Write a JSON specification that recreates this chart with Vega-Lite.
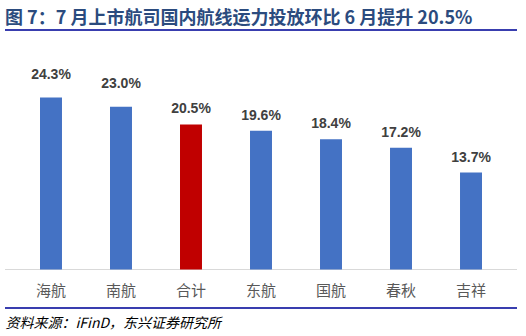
{
  "$schema": "https://vega.github.io/schema/vega-lite/v6.json",
  "width": 512,
  "height": 278,
  "autosize": {"type": "none"},
  "padding": {"left": 5, "right": 9, "top": 30, "bottom": 28},
  "background": "white",
  "config": {"view": {"stroke": null}},
  "title": {
    "text": "图 7：7 月上市航司国内航线运力投放环比 6 月提升 20.5%",
    "anchor": "start",
    "frame": "group",
    "orient": "top",
    "baseline": "bottom",
    "offset": 4,
    "dy": 21,
    "font": "Noto Sans CJK SC",
    "fontSize": 18,
    "fontWeight": "bold",
    "color": "#2B4B7E"
  },
  "data": {
    "values": [
      {"airline": "海航", "v": 0.243},
      {"airline": "南航", "v": 0.230},
      {"airline": "合计", "v": 0.205},
      {"airline": "东航", "v": 0.196},
      {"airline": "国航", "v": 0.184},
      {"airline": "春秋", "v": 0.172},
      {"airline": "吉祥", "v": 0.137}
    ]
  },
  "encoding": {
    "x": {
      "field": "airline",
      "type": "nominal",
      "sort": null,
      "scale": {"paddingInner": 0.686, "paddingOuter": 0.5},
      "axis": {
        "domain": false,
        "ticks": false,
        "labels": false,
        "title": "资料来源：iFinD，东兴证券研究所",
        "titleAnchor": "start",
        "titleAlign": "left",
        "titleBaseline": "top",
        "titlePadding": 8,
        "titleFont": "Noto Sans CJK SC",
        "titleFontStyle": "italic",
        "titleFontWeight": "normal",
        "titleFontSize": 14,
        "titleColor": "#000000"
      }
    }
  },
  "layer": [
    {
      "mark": {"type": "rule", "color": "#D9D9D9", "strokeWidth": 1},
      "encoding": {"x": null, "y": {"datum": 0, "type": "quantitative", "scale": {"domain": [-0.0544, 0.3385], "nice": false, "zero": false}, "axis": null}}
    },
    {
      "mark": {"type": "bar"},
      "encoding": {
        "y": {"field": "v", "type": "quantitative", "scale": {"domain": [-0.0544, 0.3385], "nice": false, "zero": false}, "axis": null},
        "color": {
          "field": "airline",
          "type": "nominal",
          "scale": {"domain": ["海航", "南航", "合计", "东航", "国航", "春秋", "吉祥"], "range": ["#4472C4", "#4472C4", "#C00000", "#4472C4", "#4472C4", "#4472C4", "#4472C4"]},
          "legend": null
        }
      }
    },
    {
      "transform": [{"filter": {"field": "airline", "oneOf": ["海航", "南航"]}}],
      "mark": {"type": "text", "baseline": "alphabetic", "dy": -19, "font": "Liberation Sans", "fontSize": 14, "fontWeight": "bold", "color": "#404040"},
      "encoding": {
        "y": {"field": "v", "type": "quantitative"},
        "text": {"field": "v", "type": "quantitative", "format": ".1%"}
      }
    },
    {
      "transform": [{"filter": {"not": {"field": "airline", "oneOf": ["海航", "南航"]}}}],
      "mark": {"type": "text", "baseline": "alphabetic", "dy": -11, "font": "Liberation Sans", "fontSize": 14, "fontWeight": "bold", "color": "#404040"},
      "encoding": {
        "y": {"field": "v", "type": "quantitative"},
        "text": {"field": "v", "type": "quantitative", "format": ".1%"}
      }
    },
    {
      "mark": {"type": "text", "baseline": "middle", "font": "Noto Sans CJK SC", "fontSize": 15, "color": "#595959"},
      "encoding": {
        "y": {"datum": -0.031, "type": "quantitative"},
        "text": {"field": "airline", "type": "nominal"}
      }
    },
    {
      "mark": {"type": "rule", "color": "#3A3FAF", "strokeWidth": 1.3},
      "encoding": {"x": null, "y": {"datum": 0.3385, "type": "quantitative"}}
    },
    {
      "mark": {"type": "rule", "color": "#3A3FAF", "strokeWidth": 1.3},
      "encoding": {"x": null, "y": {"datum": -0.0544, "type": "quantitative"}}
    }
  ]
}
